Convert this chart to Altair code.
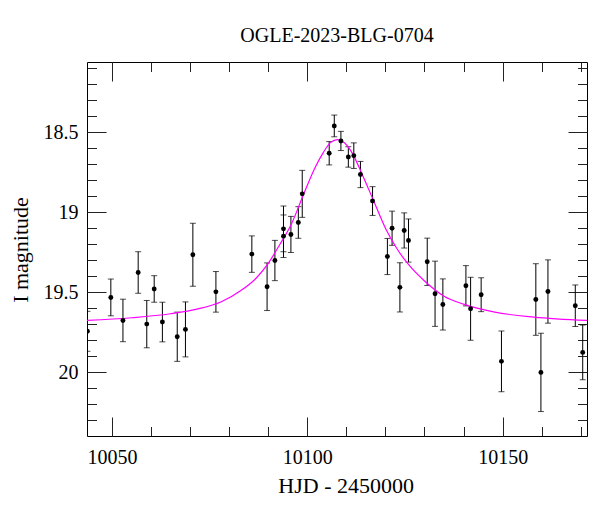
import altair as alt
import pandas as pd

# ---- data ----
hjd = [10043.7, 10049.7, 10052.8, 10056.7, 10058.9, 10060.8, 10062.9, 10066.7, 10068.8, 10070.7,
       10076.6, 10085.8, 10089.7, 10091.7, 10093.9, 10093.9, 10095.8, 10097.7, 10098.7, 10105.6,
       10106.9, 10108.6, 10110.5, 10111.9, 10113.6, 10116.7, 10120.5, 10121.7, 10123.7, 10124.8,
       10125.9, 10130.7, 10132.7, 10134.7, 10140.6, 10141.8, 10144.5, 10149.7, 10158.5, 10159.8,
       10161.6, 10168.6, 10170.5]
mag = [19.745, 19.533, 19.677, 19.377, 19.70, 19.48, 19.687, 19.779, 19.733, 19.266,
       19.498, 19.262, 19.466, 19.302, 19.15, 19.104, 19.139, 19.064, 18.885, 18.631,
       18.46, 18.554, 18.654, 18.646, 18.764, 18.93, 19.277, 19.10, 19.47, 19.114,
       19.177, 19.31, 19.51, 19.577, 19.46, 19.604, 19.516, 19.933, 19.546, 20.002,
       19.496, 19.585, 19.877]
err = [0.125, 0.115, 0.133, 0.13, 0.148, 0.083, 0.124, 0.154, 0.172, 0.197,
       0.127, 0.114, 0.149, 0.126, 0.133, 0.143, 0.113, 0.099, 0.147, 0.073,
       0.068, 0.06, 0.064, 0.08, 0.082, 0.09, 0.113, 0.107, 0.154, 0.11,
       0.135, 0.148, 0.204, 0.16, 0.126, 0.197, 0.106, 0.19, 0.224, 0.245,
       0.198, 0.13, 0.171]

model_hjd = [10043.6, 10055, 10065, 10072, 10078, 10083, 10087, 10090, 10093, 10096,
             10099, 10102, 10104, 10106, 10107.7, 10109.5, 10111.5, 10114, 10117, 10120,
             10123, 10126, 10130, 10135, 10140, 10148, 10158, 10171.6]
model_mag = [19.677, 19.66, 19.635, 19.605, 19.56, 19.49, 19.41, 19.32, 19.20, 19.07,
             18.89, 18.72, 18.63, 18.563, 18.546, 18.565, 18.63, 18.76, 18.93, 19.10,
             19.23, 19.33, 19.43, 19.525, 19.575, 19.625, 19.656, 19.677]

x_major = [10050, 10100, 10150]
x_minor = [10050, 10060, 10070, 10080, 10090, 10100, 10110, 10120, 10130, 10140, 10150, 10160, 10170]
y_major = [18.5, 19.0, 19.5, 20.0]
y_minor = [18.1, 18.2, 18.3, 18.4, 18.5, 18.6, 18.7, 18.8, 18.9, 19.0, 19.1, 19.2, 19.3, 19.4,
           19.5, 19.6, 19.7, 19.8, 19.9, 20.0, 20.1, 20.2, 20.3]

obs = pd.DataFrame({"hjd": hjd, "mag": mag, "err": err})
obs["lo"] = obs["mag"] - obs["err"]
obs["hi"] = obs["mag"] + obs["err"]
model = pd.DataFrame({"hjd": model_hjd, "mag": model_mag})

FONT = "Liberation Serif"
W, H = 500, 374
MAJ, MIN = 19, 9.5

xs = alt.Scale(domain=[10043.6, 10171.6], nice=False, zero=False)
ys = alt.Scale(domain=[18.06, 20.4], reverse=True, nice=False, zero=False)

common = dict(domain=False, grid=False, tickColor="#222", tickWidth=1)

ax_x_bot_major = alt.Axis(orient="bottom", values=x_major, tickSize=MAJ, offset=-MAJ, format="d",
                          labelFont=FONT, labelFontSize=20, labelColor="black", labelPadding=11,
                          title="HJD - 2450000", titleFont=FONT, titleFontSize=22,
                          titleFontWeight="normal", titleColor="black", titleX=258.7, titleY=75,
                          titleAlign="center", titleBaseline="alphabetic", **common)
ax_x_bot_minor = alt.Axis(orient="bottom", values=x_minor, tickSize=MIN, offset=-MIN, labels=False,
                          title=None, **common)
ax_x_top_major = alt.Axis(orient="top", values=x_major, tickSize=MAJ, offset=-MAJ, labels=False,
                          title=None, **common)
ax_x_top_minor = alt.Axis(orient="top", values=x_minor, tickSize=MIN, offset=-MIN, labels=False,
                          title=None, **common)

ax_y_left_major = alt.Axis(orient="left", values=y_major, tickSize=MAJ, offset=-MAJ, format="~g",
                           labelFont=FONT, labelFontSize=20, labelColor="black", labelPadding=9,
                           title="I magnitude", titleFont=FONT, titleFontSize=22,
                           titleFontWeight="normal", titleColor="black", titleAngle=270,
                           titleX=-78.3, titleY=187.5, titleAlign="center",
                           titleBaseline="alphabetic", **common)
ax_y_left_minor = alt.Axis(orient="left", values=y_minor, tickSize=MIN, offset=-MIN, labels=False,
                           title=None, **common)
ax_y_right_major = alt.Axis(orient="right", values=y_major, tickSize=MAJ, offset=-MAJ, labels=False,
                            title=None, **common)
ax_y_right_minor = alt.Axis(orient="right", values=y_minor, tickSize=MIN, offset=-MIN, labels=False,
                            title=None, **common)

bars = alt.Chart(obs).mark_rule(color="black", strokeWidth=1, clip=True).encode(
    x=alt.X("hjd:Q", scale=xs, axis=ax_x_bot_major),
    y=alt.Y("lo:Q", scale=ys, axis=ax_y_left_major),
    y2="hi:Q",
)
caps_lo = alt.Chart(obs).mark_tick(color="black", orient="horizontal", size=6, thickness=1, clip=True).encode(
    x=alt.X("hjd:Q", scale=xs, axis=ax_x_bot_minor),
    y=alt.Y("lo:Q", scale=ys, axis=ax_y_left_minor),
)
caps_hi = alt.Chart(obs).mark_tick(color="black", orient="horizontal", size=6, thickness=1, clip=True).encode(
    x=alt.X("hjd:Q", scale=xs, axis=ax_x_top_major),
    y=alt.Y("hi:Q", scale=ys, axis=ax_y_right_major),
)
curve = alt.Chart(model).mark_line(color="#ff00ff", strokeWidth=1.2, interpolate="monotone", clip=True).encode(
    x=alt.X("hjd:Q", scale=xs, axis=ax_x_top_minor),
    y=alt.Y("mag:Q", scale=ys, axis=ax_y_right_minor),
)
points = alt.Chart(obs).mark_circle(color="black", size=24, opacity=1, clip=True).encode(
    x=alt.X("hjd:Q", scale=xs, axis=None),
    y=alt.Y("mag:Q", scale=ys, axis=None),
)

chart = alt.layer(bars, caps_lo, caps_hi, curve, points).resolve_axis(
    x="independent", y="independent"
).properties(
    width=W, height=H,
    title=alt.TitleParams(text="OGLE-2023-BLG-0704", font=FONT, fontSize=20, fontWeight="normal",
                          color="black", anchor="middle", frame="group", baseline="alphabetic",
                          offset=0),
    autosize=alt.AutoSizeParams(type="none"),
    padding={"left": 79, "top": 54, "right": 5, "bottom": 80},
).configure_view(stroke="black", strokeWidth=1)

chart.save("out.html", embed_options={"renderer": "svg", "actions": False})
